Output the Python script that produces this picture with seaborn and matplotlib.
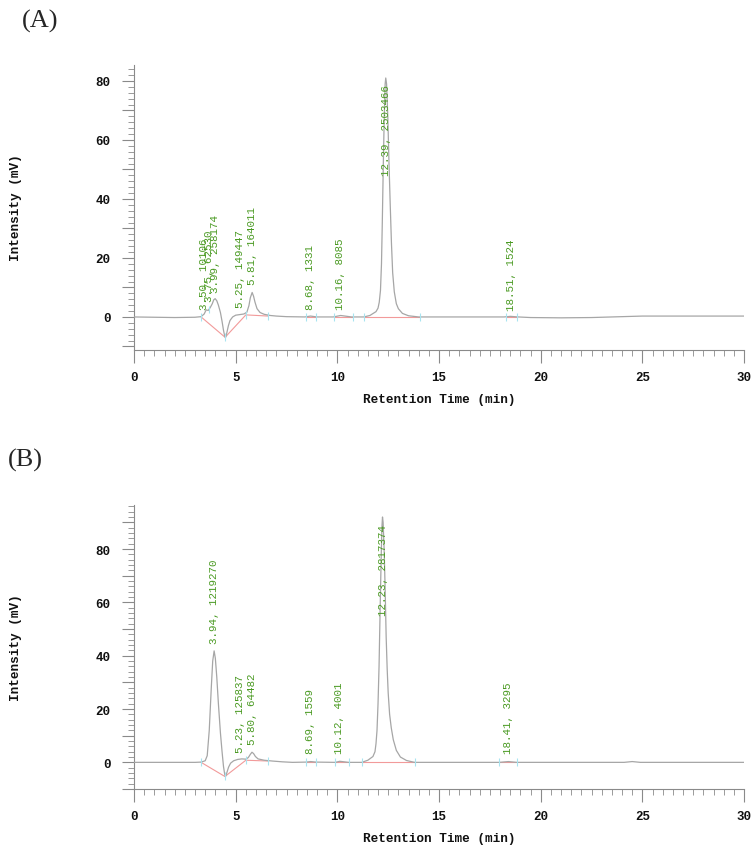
import matplotlib
matplotlib.use("Agg")
import matplotlib.pyplot as plt
import seaborn as sns
from matplotlib.ticker import MultipleLocator, FixedLocator, FuncFormatter

# chromatogram traces: (time min, intensity mV)
trace_a = [(0, 0), (1.0, -0.1), (2.0, -0.2), (3.0, -0.1), (3.3, 0.1), (3.45, 1.0),
           (3.55, 2.4), (3.65, 2.2), (3.75, 3.2), (3.85, 4.5), (3.92, 5.8), (3.99, 6.2),
           (4.07, 5.5), (4.15, 4.0), (4.25, 1.5), (4.33, -1.5), (4.40, -4.5), (4.46, -6.5),
           (4.50, -7.0), (4.56, -5.5), (4.64, -3.0), (4.72, -1.2), (4.85, 0.0), (5.0, 0.6),
           (5.2, 0.8), (5.4, 1.0), (5.55, 1.6), (5.65, 3.8), (5.72, 6.5), (5.81, 8.3),
           (5.88, 7.0), (5.95, 5.0), (6.05, 2.8), (6.2, 1.5), (6.4, 0.9), (6.7, 0.5),
           (7.0, 0.3), (7.5, 0.1), (8.4, 0.0), (8.68, 0.3), (9.0, 0.0), (9.8, 0.0),
           (10.16, 0.5), (10.7, 0.0), (11.3, 0.0), (11.6, 0.5), (11.9, 1.8), (12.0, 3.0),
           (12.06, 5), (12.12, 9), (12.17, 18), (12.21, 32), (12.25, 48), (12.3, 66),
           (12.35, 79), (12.38, 81), (12.42, 79), (12.48, 68), (12.54, 52), (12.6, 38),
           (12.66, 25), (12.72, 15), (12.8, 8.5), (12.9, 4.5), (13.0, 2.8), (13.2, 1.2),
           (13.5, 0.4), (14.0, 0.0), (18.2, 0.0), (18.51, 0.2), (18.9, 0.0), (19.5, -0.2),
           (21.0, -0.3), (22.5, -0.2), (24.0, 0.1), (25.0, 0.3), (30.0, 0.3)]

trace_b = [(0, 0), (1.0, 0), (2.0, 0), (3.0, 0), (3.3, 0.1), (3.5, 0.6), (3.6, 2.5),
           (3.7, 12), (3.8, 28), (3.87, 38), (3.94, 41.8), (4.0, 39), (4.07, 32),
           (4.15, 22), (4.25, 11), (4.33, 4), (4.4, -1.5), (4.46, -4.5), (4.5, -5.3),
           (4.56, -4), (4.65, -1.8), (4.75, -0.3), (4.9, 0.6), (5.1, 1.1), (5.3, 1.3),
           (5.5, 1.2), (5.62, 1.8), (5.72, 3.0), (5.8, 3.8), (5.88, 3.3), (5.97, 2.2),
           (6.1, 1.3), (6.4, 0.8), (6.8, 0.5), (7.3, 0.2), (7.8, 0), (8.45, 0.1),
           (8.69, 0.3), (8.95, 0.1), (9.9, 0), (10.12, 0.4), (10.55, 0), (11.2, 0),
           (11.5, 0.8), (11.75, 2.2), (11.85, 4), (11.9, 7), (11.95, 12), (12.0, 22),
           (12.05, 36), (12.1, 56), (12.15, 75), (12.19, 88), (12.22, 92), (12.25, 90),
           (12.3, 80), (12.35, 65), (12.4, 47), (12.45, 35), (12.5, 26), (12.57, 18),
           (12.65, 13), (12.75, 8.5), (12.9, 4.5), (13.1, 2.0), (13.4, 0.7), (13.8, 0),
           (17.96, 0), (18.41, 0.3), (18.82, 0), (24.1, 0), (24.5, 0.3), (24.9, 0),
           (30, 0)]

# integration baselines (red) and peak bounds (cyan)
baseline_a = [[(3.3, 0), (4.48, -6.9), (5.5, 0.7), (6.6, 0.3)],
              [(8.45, 0), (8.93, 0)], [(9.83, 0), (10.75, 0)],
              [(11.3, 0), (14.04, 0)], [(18.3, 0), (18.82, 0)]]
baseline_b = [[(3.3, 0), (4.47, -5.3), (5.5, 0.8), (6.6, 0.5)],
              [(8.45, 0.1), (8.95, 0.1)], [(9.9, 0), (10.55, 0)],
              [(11.2, 0), (13.8, 0)], [(17.96, 0), (18.82, 0)]]
bounds_a = [(3.3, 0), (3.7, 2.5), (4.46, -6.8), (5.5, 0.7), (6.6, 0.4), (8.45, 0),
            (8.93, 0), (9.83, 0), (10.75, 0), (11.3, 0), (14.04, 0), (18.3, 0), (18.82, 0)]
bounds_b = [(3.3, 0), (4.46, -5.2), (5.5, 0.8), (6.6, 0.5), (8.45, 0.1), (8.95, 0.1),
            (9.9, 0), (10.55, 0), (11.2, 0), (13.8, 0), (17.96, 0), (18.82, 0)]

# peak tables
peak_rt_a = [3.50, 3.75, 3.99, 5.25, 5.81, 8.68, 10.16, 12.39, 18.51]
peak_area_a = [10106, 62530, 258174, 149447, 164011, 1331, 8085, 2503466, 1524]
label_x_a = [3.44, 3.70, 3.98, 5.20, 5.80, 8.66, 10.13, 12.38, 18.53]
label_y_a = [2.7, 5.4, 8.5, 3.4, 11.2, 2.7, 2.7, 48, 2.5]

peak_rt_b = [3.94, 5.23, 5.80, 8.69, 10.12, 12.23, 18.41]
peak_area_b = [1219270, 125837, 64482, 1559, 4001, 2817374, 3295]
label_x_b = [3.94, 5.21, 5.82, 8.66, 10.09, 12.23, 18.41]
label_y_b = [44.7, 3.7, 6.9, 3.5, 3.5, 55.2, 3.5]

sns.set_style("ticks")
plt.rcParams['font.family'] = ['Liberation Mono', 'DejaVu Sans Mono']

GRAY = '#a6a6a6'
AXC = '#8a8a8a'
GREEN = '#4a9a22'

fig = plt.figure(figsize=(7.55, 8.54), dpi=100)
ax_a = fig.add_axes([0.1775, 0.589, 0.808, 0.3337])
ax_b = fig.add_axes([0.1775, 0.0749, 0.808, 0.3326])


def draw_panel(ax, trace, baselines, bounds, rts, areas, lx, ly, ylim, mark_h):
    t = [p[0] for p in trace]
    v = [p[1] for p in trace]
    for seg in baselines:
        ax.plot([p[0] for p in seg], [p[1] for p in seg], color='#f29a9a', lw=0.8, zorder=2)
    sns.lineplot(x=t, y=v, ax=ax, color=GRAY, lw=0.9, estimator=None, sort=False, zorder=3)
    for bt, bv in bounds:
        ax.vlines(bt, bv - mark_h, bv + mark_h, color='#a8e4f0', lw=0.8, zorder=4)
    for rt, area, x, y in zip(rts, areas, lx, ly):
        ax.text(x, y, f"{rt:.2f}, {area}", rotation=90, ha='center', va='bottom',
                fontsize=7.8, color=GREEN, family='Liberation Mono', zorder=5)

    ax.set_xlim(0, 30)
    ax.set_ylim(*ylim)
    sns.despine(ax=ax)
    for s in ('left', 'bottom'):
        ax.spines[s].set_color(AXC)
        ax.spines[s].set_linewidth(0.8)

    ax.xaxis.set_major_locator(MultipleLocator(5))
    ax.xaxis.set_minor_locator(MultipleLocator(0.5))
    ax.yaxis.set_major_locator(FixedLocator(list(range(-10, int(ylim[1]) + 1, 10))))
    ax.yaxis.set_minor_locator(MultipleLocator(2))
    ax.yaxis.set_major_formatter(FuncFormatter(lambda y, p: f"{int(y)}" if y >= 0 and y % 20 == 0 else ""))
    ax.tick_params(which='major', length=9, width=0.8, color=AXC, direction='out',
                   labelsize=9, labelcolor='#111111', bottom=True, left=True)
    ax.tick_params(which='minor', length=4, width=0.6, color=AXC, direction='out',
                   bottom=True, left=True)
    ax.tick_params(axis='y', which='major', pad=8)
    ax.tick_params(axis='x', which='major', pad=6)
    for lab in ax.get_xticklabels() + ax.get_yticklabels():
        lab.set_fontweight('bold')

    ax.set_xlabel('Retention Time (min)', fontsize=9.2, fontweight='bold', color='#111111')
    ax.set_ylabel('Intensity (mV)', fontsize=9.2, fontweight='bold', color='#111111')
    ax.xaxis.label.set_va('center')
    ax.yaxis.label.set_va('center')
    ax.xaxis.set_label_coords(0.5, -0.172)
    ax.yaxis.set_label_coords(-0.193, 0.502)


draw_panel(ax_a, trace_a, baseline_a, bounds_a, peak_rt_a, peak_area_a,
           label_x_a, label_y_a, (-11.2, 85.4), 1.3)
draw_panel(ax_b, trace_b, baseline_b, bounds_b, peak_rt_b, peak_area_b,
           label_x_b, label_y_b, (-10.0, 96.5), 1.5)

fig.text(0.029, 0.975, '(A)', fontsize=19, family='Liberation Serif', va='center', ha='left')
fig.text(0.011, 0.461, '(B)', fontsize=19, family='Liberation Serif', va='center', ha='left')

fig.savefig('out.png', dpi=100)
